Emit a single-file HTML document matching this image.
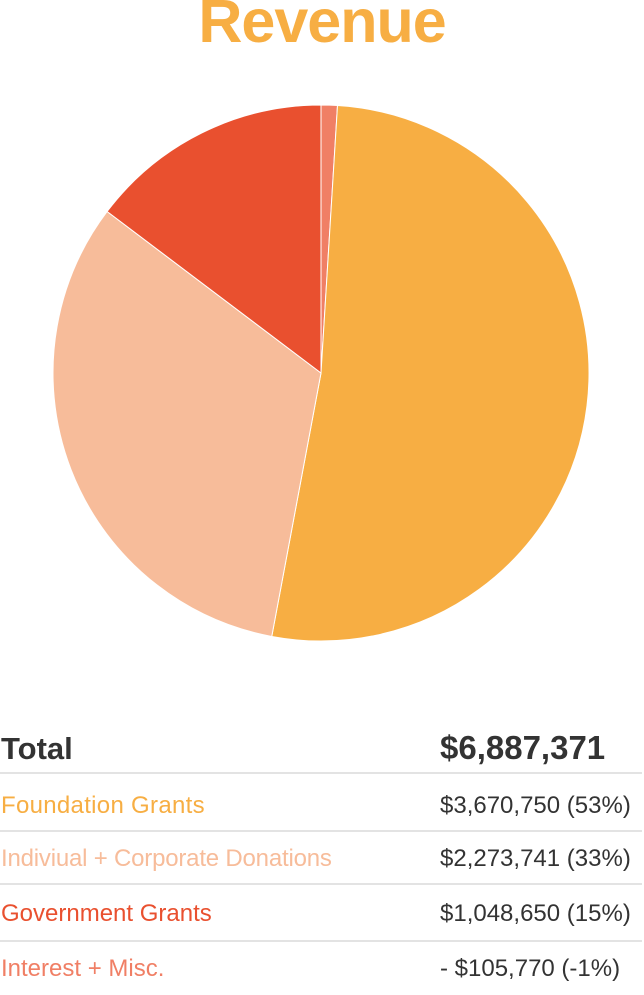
<!DOCTYPE html>
<html><head><meta charset="utf-8"><style>
body{margin:0;width:644px;height:982px;background:#fff;font-family:"Liberation Sans",sans-serif;position:relative;overflow:hidden}
.t{position:absolute;left:0;top:-14px;width:644px;text-align:center;font-weight:bold;font-size:61px;color:#F7AE43;letter-spacing:-1px}
.row{position:absolute;left:0;width:642px;border-bottom:2px solid #e3e3e3}
.row span{position:absolute;white-space:nowrap}
.l{left:1px}.v{left:440px;color:#333}
</style></head><body>
<div class="t">Revenue</div>
<svg id="pie" width="644" height="660" style="position:absolute;left:0;top:0"></svg>
<div class="row" style="top:731px;height:41px;font-size:31px;font-weight:bold;color:#333"><span class="l">Total</span><span class="v" style="color:#333;font-size:33px;top:-2px">$6,887,371</span></div>
<div class="row" style="top:792px;height:38px;font-size:24px"><span class="l" style="color:#F7AE43;letter-spacing:0.3px">Foundation Grants</span><span class="v">$3,670,750 (53%)</span></div>
<div class="row" style="top:845px;height:38px;font-size:24px"><span class="l" style="color:#F7BC9A;letter-spacing:-0.2px">Indiviual + Corporate Donations</span><span class="v">$2,273,741 (33%)</span></div>
<div class="row" style="top:900px;height:40px;font-size:24px"><span class="l" style="color:#E9502F">Government Grants</span><span class="v">$1,048,650 (15%)</span></div>
<div class="row" style="top:955px;height:40px;font-size:24px;border-bottom:none"><span class="l" style="color:#F07F65">Interest + Misc.</span><span class="v">- $105,770 (-1%)</span></div>
<script>
const categories=["Interest + Misc.","Foundation Grants","Individual + Corporate Donations","Government Grants"];
const values=[1,53,33,15];
const colors=["#F07F65","#F7AE43","#F7BC9A","#E9502F"];
const svg=document.getElementById('pie');
const cx=321,cy=373,r=268;
const tot=values.reduce((a,b)=>a+b,0);
let a0=0;
values.forEach((v,i)=>{
  const a1=a0+v/tot*2*Math.PI;
  const x0=cx+r*Math.sin(a0),y0=cy-r*Math.cos(a0),x1=cx+r*Math.sin(a1),y1=cy-r*Math.cos(a1);
  const p=document.createElementNS('http://www.w3.org/2000/svg','path');
  p.setAttribute('d',`M${cx},${cy}L${x0},${y0}A${r},${r} 0 ${a1-a0>Math.PI?1:0} 1 ${x1},${y1}Z`);
  p.setAttribute('fill',colors[i]);
  p.setAttribute('stroke','#fff');p.setAttribute('stroke-width','1');
  
  
  svg.appendChild(p);
  a0=a1;
});
</script>
</body></html>
